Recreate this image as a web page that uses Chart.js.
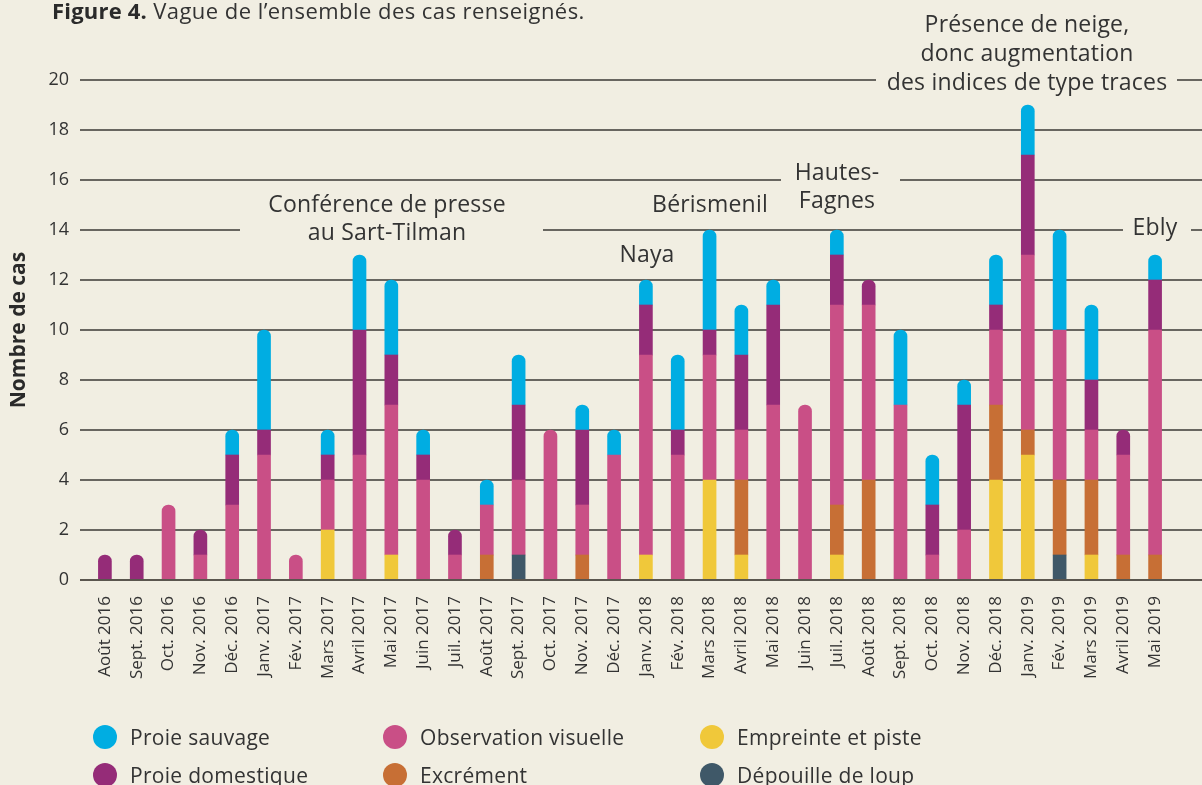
<!DOCTYPE html>
<html><head><meta charset="utf-8">
<script src="https://cdn.jsdelivr.net/npm/chart.js@4"></script>
<style>
html,body{margin:0;padding:0;background:#f1eee2;}
#wrap{position:relative;width:1202px;height:785px;overflow:hidden;background:#f1eee2;font-family:'Open Sans',sans-serif;color:#333;}
#c{position:absolute;left:0;top:0;}
.title{position:absolute;left:52px;top:-5px;font-size:22px;letter-spacing:0.45px;white-space:nowrap;}
.title b{font-weight:700;color:#2a2a2a;letter-spacing:0.2px;}
.leg{position:absolute;font-size:21px;letter-spacing:0.3px;white-space:nowrap;line-height:24px;}
.leg i{position:absolute;left:-37px;top:0;width:24px;height:24px;border-radius:50%;}
</style></head>
<body><div id="wrap">
<canvas id="c" width="1202" height="785"></canvas>
<div class="title"><b>Figure 4.</b> Vague de l’ensemble des cas renseignés.</div>
<div id="legend"></div>
</div>
<script>
const categories = ['Août 2016','Sept. 2016','Oct. 2016','Nov. 2016','Déc. 2016','Janv. 2017','Fév. 2017','Mars 2017','Avril 2017','Mai 2017','Juin 2017','Juil. 2017','Août 2017','Sept. 2017','Oct. 2017','Nov. 2017','Déc. 2017','Janv. 2018','Fév. 2018','Mars 2018','Avril 2018','Mai 2018','Juin 2018','Juil. 2018','Août 2018','Sept. 2018','Oct. 2018','Nov. 2018','Déc. 2018','Janv. 2019','Fév. 2019','Mars 2019','Avril 2019','Mai 2019'];
const depouille       = [0,0,0,0,0,0,0,0,0,0,0,0,0,1,0,0,0,0,0,0,0,0,0,0,0,0,0,0,0,0,1,0,0,0];
const empreinte       = [0,0,0,0,0,0,0,2,0,1,0,0,0,0,0,0,0,1,0,4,1,0,0,1,0,0,0,0,4,5,0,1,0,0];
const excrement       = [0,0,0,0,0,0,0,0,0,0,0,0,1,0,0,1,0,0,0,0,3,0,0,2,4,0,0,0,3,1,3,3,1,1];
const observation     = [0,0,3,1,3,5,1,2,5,6,4,1,2,3,6,2,5,8,5,5,2,7,7,8,7,7,1,2,3,7,6,2,4,9];
const proieDomestique = [1,1,0,1,2,1,0,1,5,2,1,1,0,3,0,3,0,2,1,1,3,4,0,2,1,0,2,5,1,4,0,2,1,2];
const proieSauvage    = [0,0,0,0,1,4,0,1,3,3,1,0,1,2,0,1,1,1,3,4,2,1,0,1,0,3,2,1,2,2,4,3,0,1];
const yTicks = [0,2,4,6,8,10,12,14,16,18,20];

const BG = '#f1eee2';
const FONT = "'Open Sans', sans-serif";
const series = [
  {label:'Dépouille de loup', data:depouille, color:'#3f5868'},
  {label:'Empreinte et piste', data:empreinte, color:'#f0c83a'},
  {label:'Excrément', data:excrement, color:'#c76f35'},
  {label:'Observation visuelle', data:observation, color:'#c94f86'},
  {label:'Proie domestique', data:proieDomestique, color:'#952c78'},
  {label:'Proie sauvage', data:proieSauvage, color:'#00ade2'}
];

const annotations = [
  {lines:['Conférence de presse','au Sart-Tilman'], x:387, y:[205,233], gridValue:14, gap:[240,543]},
  {lines:['Naya'], x:647, y:[255]},
  {lines:['Bérismenil'], x:710, y:[205]},
  {lines:['Hautes-','Fagnes'], x:837, y:[173,201], gridValue:16, gap:[781,900]},
  {lines:['Présence de neige,','donc augmentation','des indices de type traces'], x:1027, y:[25,54,83], gridValue:20, gap:[876,1177]},
  {lines:['Ebly'], x:1155, y:[228], gridValue:14, gap:[1123,1191]}
];

const gridPlugin = {
  id:'customGrid',
  beforeDatasetsDraw(chart){
    const ctx = chart.ctx, ys = chart.scales.y;
    ctx.save();
    yTicks.forEach(v=>{
      if(v===0) return;
      const py = Math.round(ys.getPixelForValue(v));
      ctx.strokeStyle = '#3a3835'; ctx.lineWidth = 1.4;
      ctx.beginPath(); ctx.moveTo(80,py); ctx.lineTo(1202,py); ctx.stroke();
    });
    annotations.forEach(a=>{
      if(a.gap){
        const py = ys.getPixelForValue(a.gridValue);
        ctx.fillStyle = BG;
        ctx.fillRect(a.gap[0], py-4, a.gap[1]-a.gap[0], 8);
      }
      ctx.fillStyle = '#333';
      ctx.font = '23px ' + FONT;
      ctx.letterSpacing = '0.2px';
      ctx.textAlign = 'center'; ctx.textBaseline = 'middle';
      a.lines.forEach((t,i)=>ctx.fillText(t, a.x, a.y[i]));
    });
    ctx.restore();
  },
  afterDatasetsDraw(chart){
    const ctx = chart.ctx, ys = chart.scales.y;
    const py = Math.round(ys.getPixelForValue(0));
    ctx.save();
    ctx.strokeStyle = '#5a564e'; ctx.lineWidth = 2;
    ctx.beginPath(); ctx.moveTo(80,py); ctx.lineTo(1202,py); ctx.stroke();
    ctx.restore();
  }
};

new Chart(document.getElementById('c'), {
  type:'bar',
  data:{
    labels:categories,
    datasets: series.map(s=>({
      label:s.label, data:s.data.map(v=>v>0?v:null), backgroundColor:s.color,
      borderWidth:0, borderRadius:7, borderSkipped:'start',
      barThickness:13
    }))
  },
  options:{
    responsive:false, animation:false,
    layout:{padding:{top:80,right:31,bottom:105,left:0}},
    plugins:{legend:{display:false}, tooltip:{enabled:false}},
    scales:{
      x:{stacked:true, grid:{display:false}, border:{display:false},
         ticks:{autoSkip:false, minRotation:90, maxRotation:90, padding:8, color:'#333', font:{family:FONT, size:17}},
         afterFit(s){ s.height = 100; }},
      y:{stacked:true, min:0, max:20, grid:{display:false, drawTicks:false}, border:{display:false},
         ticks:{stepSize:2, padding:20, color:'#333', font:{family:FONT, size:18}},
         title:{display:true, text:'Nombre de cas', color:'#2a2a2a', font:{family:FONT, size:21, weight:'bold'}, padding:{top:6,bottom:0}},
         afterFit(s){ s.width = 89; }}
    }
  },
  plugins:[gridPlugin]
});

const legendItems = [
  {label:'Proie sauvage', color:'#00ade2', x:130, y:725},
  {label:'Proie domestique', color:'#952c78', x:130, y:763},
  {label:'Observation visuelle', color:'#c94f86', x:420, y:725},
  {label:'Excrément', color:'#c76f35', x:420, y:763},
  {label:'Empreinte et piste', color:'#f0c83a', x:737, y:725},
  {label:'Dépouille de loup', color:'#3f5868', x:737, y:763}
];
const lg = document.getElementById('legend');
legendItems.forEach(it=>{
  const d = document.createElement('div');
  d.className='leg'; d.style.left=it.x+'px'; d.style.top=it.y+'px';
  d.innerHTML = '<i style="background:'+it.color+'"></i>'+it.label;
  lg.appendChild(d);
});
</script>
</body></html>
